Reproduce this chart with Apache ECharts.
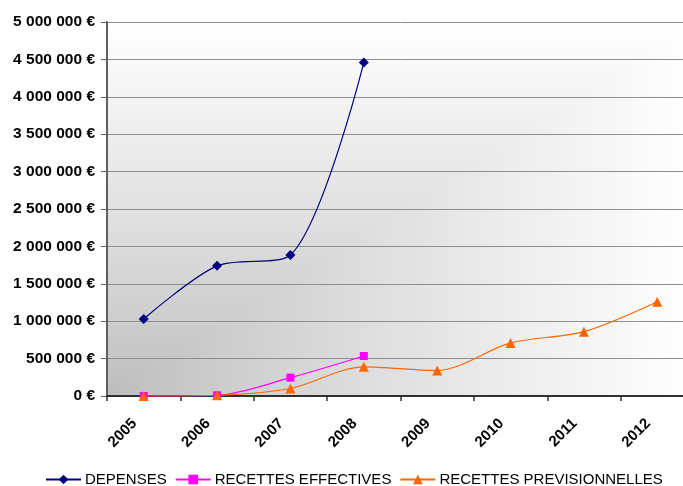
<!DOCTYPE html>
<html>
<head>
<meta charset="utf-8">
<script src="https://cdn.jsdelivr.net/npm/echarts@6/dist/echarts.min.js"></script>
<style>
  html, body { margin: 0; padding: 0; background: #ffffff; overflow: hidden; }
  #chart { width: 700px; height: 486px; }
</style>
</head>
<body>
<div id="chart"></div>
<script>
// Years on the category axis
const years = ['2005', '2006', '2007', '2008', '2009', '2010', '2011', '2012'];

// Amounts in euros
const depenses = [1030000, 1740000, 1885000, 4460000];
const recettesEffectives = [0, 10000, 245000, 535000];
const recettesPrevisionnelles = [0, 10000, 100000, 390000, 340000, 710000, 860000, 1260000];

// Value axis ticks
const yMin = 0;
const yMax = 5000000;
const yStep = 500000;

// Plot area placement (the plot runs past the right edge of the page)
const GRID = { left: 107, top: 22, width: 587, height: 374 };

// Plot background: shading that darkens toward the bottom-left corner
function cornerShade(w, h) {
  const c = document.createElement('canvas');
  c.width = w; c.height = h;
  const ctx = c.getContext('2d');
  const img = ctx.createImageData(w, h);
  const dark = 188, light = 255;
  for (let y = 0; y < h; y++) {
    const fy = (h - 1 - y) / (h - 1);
    for (let x = 0; x < w; x++) {
      const fx = x / (w - 1);
      const t = Math.max(fx, fy);
      const v = Math.round(dark + (light - dark) * Math.pow(t, 0.85));
      const i = (y * w + x) * 4;
      img.data[i] = v; img.data[i + 1] = v; img.data[i + 2] = v; img.data[i + 3] = 255;
    }
  }
  ctx.putImageData(img, 0, 0);
  return c;
}

function euro(v) {
  return String(Math.round(v)).replace(/\B(?=(\d{3})+(?!\d))/g, ' ') + ' €';
}

const FONT = '"Liberation Sans", Arial, sans-serif';
const SMOOTH = 0.3;

const chart = echarts.init(document.getElementById('chart'), null, { renderer: 'canvas' });

chart.setOption({
  animation: false,
  backgroundColor: '#ffffff',
  graphic: [{
    type: 'image',
    left: GRID.left,
    top: GRID.top,
    z: -10,
    silent: true,
    style: { image: cornerShade(GRID.width, GRID.height), width: GRID.width, height: GRID.height }
  }],
  grid: {
    left: GRID.left,
    top: GRID.top,
    width: GRID.width,
    height: GRID.height,
    containLabel: false
  },
  legend: {
    left: 40,
    top: 467,
    itemWidth: 35,
    itemHeight: 12,
    itemGap: 8,
    textStyle: { fontFamily: FONT, fontSize: 15, color: '#000000', padding: [0, 0, 0, -1] },
    data: ['DEPENSES', 'RECETTES EFFECTIVES', 'RECETTES PREVISIONNELLES']
  },
  xAxis: {
    type: 'category',
    data: years,
    boundaryGap: true,
    axisLine: { show: true, lineStyle: { color: '#303030', width: 2 } },
    axisTick: { show: true, length: 5, inside: false, lineStyle: { color: '#303030', width: 1.5 } },
    axisLabel: {
      rotate: 45,
      margin: 16,
      interval: 0,
      padding: [0, 13, 0, 0],
      fontFamily: FONT,
      fontSize: 15,
      fontWeight: 'bold',
      color: '#000000'
    },
    splitLine: { show: false }
  },
  yAxis: {
    type: 'value',
    min: yMin,
    max: yMax,
    interval: yStep,
    axisLine: { show: true, lineStyle: { color: '#606060', width: 2 } },
    axisTick: { show: true, length: 6, lineStyle: { color: '#606060', width: 1 } },
    axisLabel: {
      margin: 12,
      formatter: euro,
      fontFamily: FONT,
      fontSize: 15.5,
      fontWeight: 'bold',
      color: '#000000'
    },
    splitLine: { show: true, lineStyle: { color: '#8e8e8e', width: 1 } }
  },
  series: [
    {
      name: 'DEPENSES',
      type: 'line',
      data: depenses,
      smooth: SMOOTH,
      symbol: 'diamond',
      symbolSize: 10,
      lineStyle: { color: '#000080', width: 1.2 },
      itemStyle: { color: '#000080' },
      z: 4
    },
    {
      name: 'RECETTES EFFECTIVES',
      type: 'line',
      data: recettesEffectives,
      smooth: SMOOTH,
      symbol: 'rect',
      symbolSize: 8,
      lineStyle: { color: '#ff00ff', width: 1.2 },
      itemStyle: { color: '#ff00ff' },
      z: 3
    },
    {
      name: 'RECETTES PREVISIONNELLES',
      type: 'line',
      data: recettesPrevisionnelles,
      smooth: SMOOTH,
      symbol: 'triangle',
      symbolSize: 10,
      lineStyle: { color: '#ff6600', width: 1.2 },
      itemStyle: { color: '#ff6600' },
      z: 3
    }
  ]
});
</script>
</body>
</html>
